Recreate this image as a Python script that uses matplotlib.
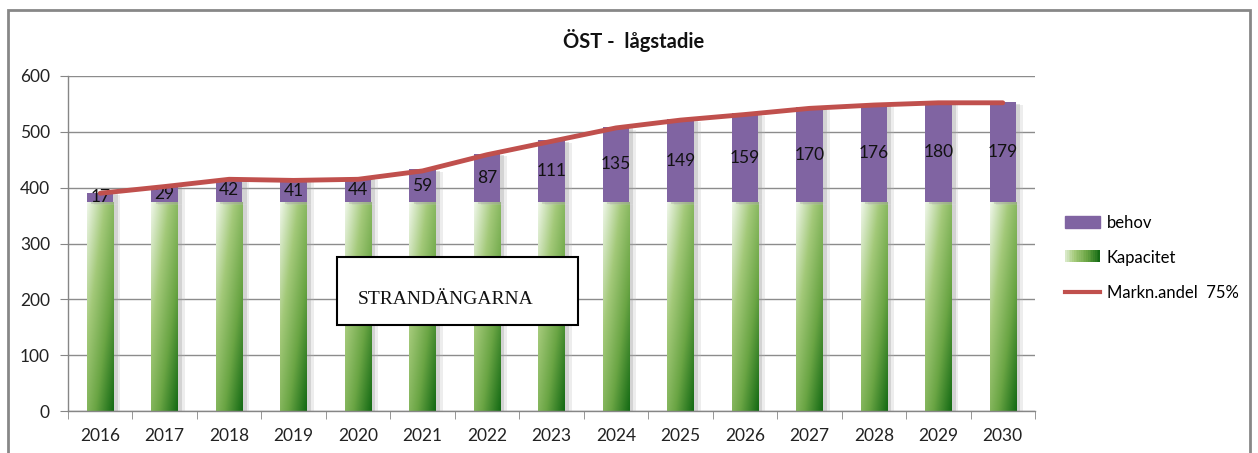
import numpy as np
import matplotlib
matplotlib.use("Agg")
import matplotlib.pyplot as plt
import matplotlib.patheffects as pe
from matplotlib.colors import LinearSegmentedColormap
from matplotlib.patches import Rectangle
from matplotlib.legend_handler import HandlerBase
from matplotlib.lines import Line2D

# data
years = ["2016", "2017", "2018", "2019", "2020", "2021", "2022", "2023",
         "2024", "2025", "2026", "2027", "2028", "2029", "2030"]
kapacitet = [374] * 15
behov = [17, 29, 42, 41, 44, 59, 87, 111, 135, 149, 159, 170, 176, 180, 179]
markn_andel = [390, 402, 415, 413, 415, 430, 459, 483, 507, 521, 531, 542, 548, 552, 552]

plt.rcParams['font.family'] = ['Lato', 'DejaVu Sans']

purple = "#8064a2"
red = "#c0504d"
green_cmap = LinearSegmentedColormap.from_list("gr", ["#eef6e8", "#a3c979", "#6aa544", "#146a14"])

fig = plt.figure(figsize=(12.58, 4.53), dpi=100)
ax = fig.add_axes([68 / 1258, 1 - 411 / 453, 967 / 1258, 335 / 453])

x = np.arange(len(years))
w = 0.41


def soft_shadow():
    return [pe.SimplePatchShadow(offset=(5, -2), shadow_rgbFace="#bbbbbb", alpha=0.25),
            pe.SimplePatchShadow(offset=(3, -1), shadow_rgbFace="#999999", alpha=0.3)]


# green capacity bars with a diagonal gradient
bars = ax.bar(x, kapacitet, w, facecolor="none", edgecolor="none", zorder=2)
gx, gy = np.meshgrid(np.linspace(0, 1, 40), np.linspace(0, 1, 200))
grad = 0.55 * gx + 0.6 * gy
grad = grad / grad.max()
for b in bars:
    b.set_path_effects(soft_shadow())
    im = ax.imshow(grad, cmap=green_cmap, aspect="auto", origin="upper",
                   extent=[b.get_x(), b.get_x() + b.get_width(), 0, b.get_height()],
                   zorder=2.1, interpolation="bilinear")
    im.set_clip_path(b)

# purple need bars stacked on top
pb = ax.bar(x, behov, w, bottom=kapacitet, color=purple, zorder=2.2)
for p in pb:
    p.set_path_effects(soft_shadow() + [pe.Normal()])

for xi, k, v in zip(x, kapacitet, behov):
    ax.text(xi, k + v / 2, str(v), ha="center", va="center", fontsize=12.5,
            color="#111111", zorder=4)

ax.plot(x, markn_andel, color=red, lw=3.5, solid_joinstyle="round",
        solid_capstyle="round", zorder=5)

ax.set_xlim(-0.5, len(years) - 0.5)
ax.set_ylim(0, 600)
ax.set_yticks(range(0, 601, 100))
ax.set_xticks(x)
ax.set_xticklabels(years)
ax.set_xticks(np.arange(-0.5, len(years), 1), minor=True)
ax.tick_params(axis="x", which="major", length=0, pad=12, labelsize=12.5, colors="#222222")
ax.tick_params(axis="x", which="minor", length=6, color="#868686")
ax.tick_params(axis="y", length=6, pad=7, labelsize=12.5, colors="#222222", color="#868686")
ax.grid(axis="y", color="#8c8c8c", lw=1, zorder=0)
ax.set_axisbelow(True)
for s in ["top", "right"]:
    ax.spines[s].set_visible(False)
for s in ["left", "bottom"]:
    ax.spines[s].set_color("#868686")
    ax.spines[s].set_linewidth(1)

fig.text(634 / 1258, 1 - 41 / 453, "ÖST -  lågstadie", ha="center", va="center",
         fontsize=14.5, fontweight="bold", color="#111111")


class GradientHandler(HandlerBase):
    def create_artists(self, legend, orig, xd, yd, width, height, fontsize, trans):
        arts = []
        n = 20
        for i in range(n):
            r = Rectangle((xd + width * i / n, yd), width / n + 0.3, height,
                          facecolor=green_cmap(0.1 + 0.9 * i / (n - 1)), edgecolor="none",
                          transform=trans)
            arts.append(r)
        return arts


handles = [Rectangle((0, 0), 1, 1, color=purple), Rectangle((0, 0), 1, 1), Line2D([], [], color=red, lw=3)]
fig.legend(handles, ["behov", "Kapacitet", "Markn.andel  75%"],
           handler_map={handles[1]: GradientHandler()},
           loc="center left", bbox_to_anchor=(1065 / 1258, 1 - 258 / 453),
           frameon=False, fontsize=12, handlelength=2.1, handleheight=0.8,
           handletextpad=0.4, labelspacing=1.15, borderpad=0, borderaxespad=0)

# text box
fig.patches.append(Rectangle((337 / 1258, 1 - 325 / 453), 241 / 1258, 68 / 453,
                             transform=fig.transFigure, facecolor="white",
                             edgecolor="black", lw=1.5, zorder=10))
fig.text(358 / 1258, 1 - 299 / 453, "STRANDÄNGARNA", family="Liberation Serif",
         fontsize=14, va="center", ha="left", color="#111111", zorder=11)

# outer chart border
fig.patches.append(Rectangle((8 / 1258, -0.05), 1242 / 1258, 443 / 453 + 0.05,
                             transform=fig.transFigure, facecolor="none",
                             edgecolor="#878787", lw=2))

fig.savefig("out.png", dpi=100)
